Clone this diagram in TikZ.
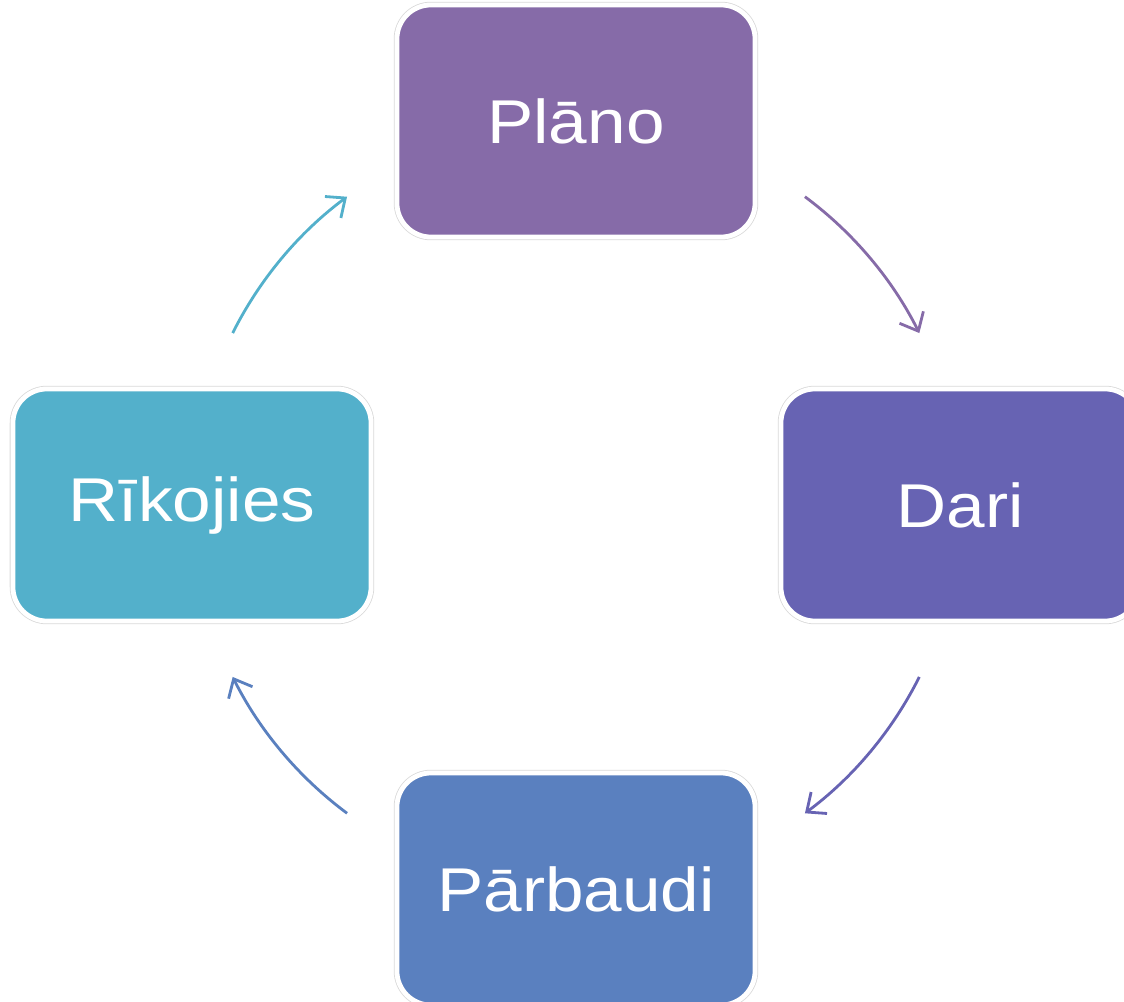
\documentclass[tikz,border=0pt]{standalone}
\usepackage{fontspec}
\setmainfont{Liberation Sans}[FakeStretch=1.12]
\usepackage{tikz}
\usetikzlibrary{arrows.meta}

\definecolor{planocol}{HTML}{866BA8}
\definecolor{daricol}{HTML}{6763B3}
\definecolor{parbcol}{HTML}{5A80BF}
\definecolor{rikocol}{HTML}{53B0CB}

\begin{document}
\begin{tikzpicture}[x=0.025cm, y=0.025cm]
% Styles:
\tikzset{stagebox/.style={rectangle, rounded corners=0.85cm, minimum width=8.95cm, minimum height=5.8cm,
    draw=white, line width=0.12cm, text=white, font=\fontsize{44pt}{52pt}\selectfont,
    preaction={draw=black!15, line width=0.16cm}}}
\tikzset{flow/.style={line width=2pt, -{Straight Barb[length=11pt, width=19pt, line width=2pt]}}}

\useasboundingbox (-576,-496) rectangle (548,505);

% Main nodes:
\node[stagebox, fill=planocol] (plano) at (90:384)  {Plāno};
\node[stagebox, fill=daricol]  (dari)  at (0:384)   {Dari};
\node[stagebox, fill=parbcol]  (parb)  at (-90:384) {Pārbaudi};
\node[stagebox, fill=rikocol]  (riko)  at (180:384) {Rīkojies};

% Arc ends:
\coordinate (plano-out) at (53.4:384);
\coordinate (dari-out)  at (-26.6:384);
\coordinate (parb-out)  at (-126.6:384);
\coordinate (riko-out)  at (153.4:384);

% Arrows round the cycle:
\draw[flow, planocol] (plano-out) arc[start angle=53.4, end angle=26.6, radius=384];
\draw[flow, daricol]  (dari-out)  arc[start angle=-26.6, end angle=-53.4, radius=384];
\draw[flow, parbcol]  (parb-out)  arc[start angle=-126.6, end angle=-153.4, radius=384];
\draw[flow, rikocol]  (riko-out)  arc[start angle=153.4, end angle=126.6, radius=384];
\end{tikzpicture}
\end{document}
